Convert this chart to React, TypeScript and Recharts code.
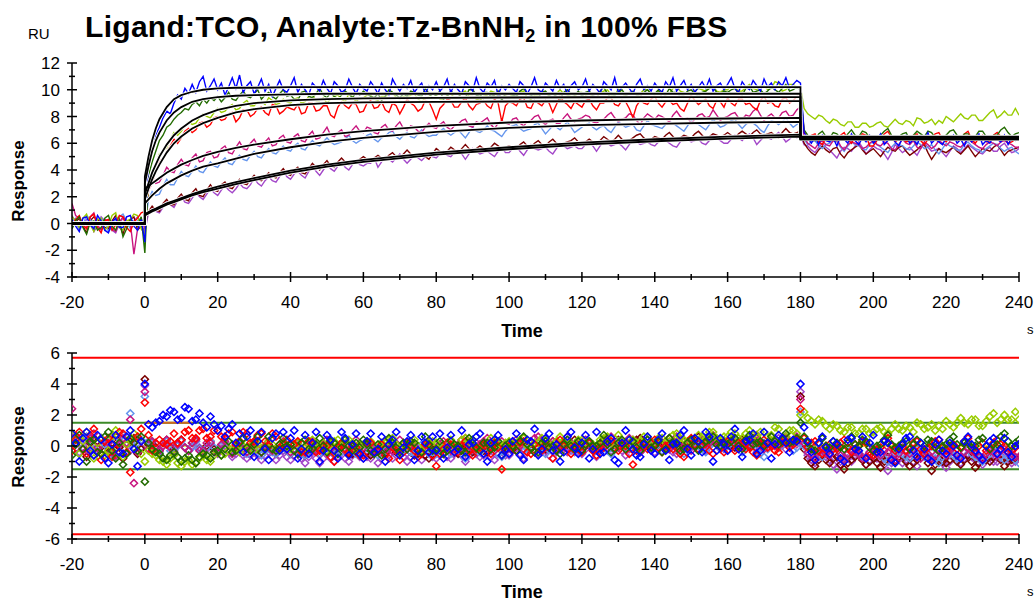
import React from 'react';
import { ComposedChart, Line, Scatter, XAxis, YAxis, ReferenceLine } from 'recharts';

// time grid (s), one row per 20 s
const T = [
  -20, -19, -18, -17, -16, -15, -14, -13, -12, -11, -10, -9, -8, -7, -6, -5, -4, -3, -2, -1,
  0, 1, 2, 3, 4, 5, 6, 7, 8, 9, 10, 11, 12, 13, 14, 15, 16, 17, 18, 19,
  20, 21, 22, 23, 24, 25, 26, 27, 28, 29, 30, 31, 32, 33, 34, 35, 36, 37, 38, 39,
  40, 41, 42, 43, 44, 45, 46, 47, 48, 49, 50, 51, 52, 53, 54, 55, 56, 57, 58, 59,
  60, 61, 62, 63, 64, 65, 66, 67, 68, 69, 70, 71, 72, 73, 74, 75, 76, 77, 78, 79,
  80, 81, 82, 83, 84, 85, 86, 87, 88, 89, 90, 91, 92, 93, 94, 95, 96, 97, 98, 99,
  100, 101, 102, 103, 104, 105, 106, 107, 108, 109, 110, 111, 112, 113, 114, 115, 116, 117, 118, 119,
  120, 121, 122, 123, 124, 125, 126, 127, 128, 129, 130, 131, 132, 133, 134, 135, 136, 137, 138, 139,
  140, 141, 142, 143, 144, 145, 146, 147, 148, 149, 150, 151, 152, 153, 154, 155, 156, 157, 158, 159,
  160, 161, 162, 163, 164, 165, 166, 167, 168, 169, 170, 171, 172, 173, 174, 175, 176, 177, 178, 179,
  180, 181, 182, 183, 184, 185, 186, 187, 188, 189, 190, 191, 192, 193, 194, 195, 196, 197, 198, 199,
  200, 201, 202, 203, 204, 205, 206, 207, 208, 209, 210, 211, 212, 213, 214, 215, 216, 217, 218, 219,
  220, 221, 222, 223, 224, 225, 226, 227, 228, 229, 230, 231, 232, 233, 234, 235, 236, 237, 238, 239,
  240,
];

// sensorgram responses (RU)
const respBlue = [
  0.3, -0.2, -0.6, 0.4, 0.5, -0.1, -0.4, 0.6, 0.2, -0.5, -0.7, 0.1, 0.4, -0.3, -0.3, 0.5, 0.6, -0.2, -0.5, 0.3,
  -1.4, 4.5, 5.4, 6.6, 7.2, 7.9, 8.4, 8.2, 9.0, 9.6, 9.3, 10.1, 9.7, 10.4, 9.8, 10.6, 11.0, 9.9, 10.3, 10.8,
  10.0, 10.5, 9.6, 10.2, 10.9, 10.1, 11.1, 9.8, 10.3, 10.6, 9.7, 10.2, 10.8, 9.9, 10.4, 9.5, 10.1, 10.7, 10.0, 9.8,
  10.3, 10.9, 9.8, 10.4, 10.0, 9.6, 10.5, 10.2, 9.9, 10.7, 10.1, 9.7, 10.6, 10.3, 9.8, 10.0, 10.8, 10.2, 9.7, 10.4,
  10.1, 9.9, 10.6, 10.2, 9.7, 10.5, 10.0, 9.6, 10.8, 10.3, 9.9, 10.4, 10.1, 10.7, 9.8, 10.2, 10.5, 9.7, 10.3, 10.0,
  10.6, 9.9, 10.2, 10.8, 9.8, 10.4, 10.0, 9.7, 10.6, 10.3, 9.9, 10.9, 10.1, 9.8, 10.5, 10.2, 10.7, 9.6, 10.3, 10.0,
  10.4, 10.1, 9.8, 10.6, 10.3, 9.7, 10.2, 10.9, 10.0, 9.8, 10.5, 10.2, 9.9, 10.7, 10.1, 10.4, 9.7, 10.3, 10.6, 10.0,
  10.2, 10.8, 9.9, 10.4, 10.1, 9.7, 10.6, 10.3, 10.0, 10.9, 9.8, 10.2, 10.5, 10.1, 9.7, 10.4, 10.8, 10.0, 10.3, 9.9,
  10.5, 10.1, 9.8, 10.6, 10.2, 10.9, 9.9, 10.3, 10.7, 10.0, 10.4, 9.8, 10.2, 10.6, 10.1, 10.8, 9.9, 10.3, 10.5, 10.0,
  10.4, 10.9, 10.1, 9.8, 10.6, 10.2, 10.0, 10.7, 10.3, 9.9, 10.8, 10.2, 10.5, 10.0, 10.6, 10.3, 10.9, 10.1, 10.4, 10.7,
  10.5, 6.8, 6.4, 6.0, 6.5, 5.9, 6.6, 6.2, 6.1, 6.4, 5.8, 6.5, 6.3, 6.0, 6.7, 6.2, 5.9, 6.4, 6.1, 6.6,
  6.0, 6.3, 6.7, 5.9, 6.2, 6.5, 6.1, 5.8, 6.4, 6.6, 6.0, 6.3, 5.9, 6.5, 6.2, 6.8, 6.0, 6.3, 6.1, 5.9,
  6.4, 6.2, 6.6, 6.0, 6.3, 5.8, 6.5, 6.1, 6.4, 6.7, 5.9, 6.2, 6.0, 6.5, 6.3, 6.1, 6.6, 5.9, 6.4, 6.2,
  6.3,
];
const respGreen = [
  -0.4, 0.2, 0.5, -0.3, -0.8, 0.1, 0.2, -0.5, -0.3, 0.4, 0.6, -0.2, -0.5, 0.3, -1.0, -0.4, 0.3, 0.1, -0.2, 0.5,
  -2.2, 3.6, 4.6, 5.4, 6.2, 6.6, 7.2, 7.4, 7.8, 8.1, 8.3, 8.6, 8.5, 8.9, 9.1, 8.8, 9.3, 9.0, 9.4, 9.2,
  9.5, 9.1, 9.4, 9.8, 9.3, 9.2, 9.6, 9.9, 9.5, 9.4, 9.7, 10.0, 9.3, 9.6, 9.8, 9.5, 9.3, 9.7, 10.0, 9.5,
  9.6, 9.3, 9.2, 9.8, 9.9, 9.5, 9.4, 9.7, 10.1, 9.6, 9.4, 9.8, 9.5, 9.3, 9.6, 9.9, 9.7, 9.4, 9.8, 9.6,
  9.9, 9.7, 9.5, 9.4, 9.7, 9.2, 9.5, 10.0, 9.8, 9.6, 9.4, 9.7, 9.5, 9.9, 9.8, 9.6, 9.5, 10.1, 9.7, 9.4,
  9.6, 9.9, 9.3, 9.5, 9.9, 9.7, 9.7, 9.4, 9.4, 10.0, 10.0, 9.6, 9.5, 9.8, 9.8, 9.5, 9.6, 9.9, 9.2, 9.7,
  9.8, 9.6, 9.5, 9.9, 10.1, 9.7, 9.6, 9.4, 9.4, 9.8, 9.9, 9.6, 9.7, 9.5, 9.3, 9.8, 10.0, 9.7, 9.6, 9.9,
  9.5, 9.8, 9.9, 9.6, 9.7, 9.9, 10.2, 9.7, 9.4, 9.6, 9.8, 10.0, 9.6, 9.7, 9.9, 9.6, 9.5, 9.8, 10.0, 9.7,
  9.7, 10.0, 9.4, 9.6, 10.1, 9.8, 9.8, 9.5, 9.6, 9.9, 10.0, 9.7, 9.5, 9.8, 9.9, 10.1, 10.2, 9.8, 9.7, 9.9,
  9.8, 10.0, 10.1, 9.7, 9.6, 10.1, 10.3, 9.8, 9.9, 10.0, 9.7, 9.9, 10.2, 10.0, 9.8, 10.1, 10.4, 9.9, 10.0, 10.2,
  10.0, 7.0, 6.6, 6.3, 6.2, 6.7, 6.9, 6.5, 6.4, 6.8, 6.7, 6.4, 6.3, 6.7, 7.0, 6.6, 6.5, 6.9, 6.8, 6.4,
  6.2, 6.5, 6.6, 6.9, 7.1, 6.6, 6.4, 6.5, 6.7, 6.8, 6.3, 6.6, 6.9, 6.7, 6.5, 6.9, 6.8, 6.4, 6.2, 6.5,
  6.6, 6.9, 7.0, 6.6, 6.4, 6.7, 6.7, 6.4, 6.5, 6.9, 6.9, 6.5, 6.3, 6.6, 6.6, 7.0, 7.2, 6.8, 6.5, 6.7,
  6.8,
];
const respLime = [
  0.5, 0.2, -0.3, 0.4, 0.7, -0.1, -0.6, 0.3, 0.4, -0.5, -0.2, 0.6, 0.8, -0.3, -0.5, 0.2, 0.3, 0.7, 0.6, -0.4,
  -0.8, 2.6, 3.6, 4.4, 5.2, 5.4, 5.7, 6.3, 6.8, 6.6, 6.9, 7.3, 7.6, 7.4, 7.5, 7.9, 8.2, 8.0, 7.9, 8.3,
  8.6, 8.3, 8.4, 8.7, 8.9, 8.5, 8.6, 9.0, 9.2, 8.8, 8.8, 9.1, 9.1, 8.9, 9.4, 9.2, 8.9, 9.0, 9.3, 9.1,
  9.0, 9.3, 9.4, 9.0, 9.1, 9.5, 9.6, 9.2, 9.2, 9.4, 9.0, 9.3, 9.5, 9.6, 9.3, 9.1, 9.7, 9.5, 9.1, 9.4,
  9.4, 9.6, 9.6, 9.3, 9.2, 9.5, 9.5, 9.7, 9.8, 9.4, 9.3, 9.5, 9.4, 9.6, 9.7, 9.3, 9.1, 9.4, 9.5, 9.7,
  9.6, 9.3, 9.3, 9.6, 9.7, 9.4, 9.4, 9.8, 9.9, 9.5, 9.5, 9.3, 9.2, 9.5, 9.6, 9.9, 9.8, 9.5, 9.4, 9.6,
  9.7, 9.5, 9.5, 9.8, 9.9, 9.4, 9.3, 9.6, 9.6, 9.9, 9.8, 9.5, 9.4, 9.7, 10.0, 9.7, 9.6, 9.5, 9.5, 9.8,
  9.8, 9.6, 9.7, 9.5, 9.4, 9.8, 9.9, 10.0, 9.6, 9.5, 10.1, 9.7, 9.5, 9.8, 9.8, 9.6, 9.7, 10.0, 10.0, 9.7,
  9.6, 9.9, 9.9, 9.6, 9.7, 10.1, 10.2, 9.9, 9.8, 9.7, 9.6, 9.9, 10.1, 10.0, 9.9, 10.3, 10.3, 9.9, 9.8, 10.0,
  10.0, 10.3, 10.2, 9.9, 9.9, 10.2, 10.4, 10.1, 10.0, 10.3, 10.3, 10.0, 10.1, 10.6, 10.5, 9.9, 10.0, 10.4, 10.4, 10.2,
  10.2, 8.6, 8.2, 8.0, 7.8, 8.1, 8.0, 7.7, 7.5, 7.8, 7.7, 7.4, 7.3, 7.6, 7.6, 7.2, 7.2, 7.5, 7.5, 7.2,
  7.3, 7.5, 7.6, 7.3, 7.2, 7.5, 7.8, 7.5, 7.4, 7.7, 7.6, 7.3, 7.9, 7.8, 7.5, 7.6, 7.8, 7.4, 7.7, 7.5,
  8.0, 7.8, 7.6, 7.9, 8.2, 7.9, 7.8, 8.1, 8.1, 7.7, 7.7, 8.0, 8.3, 8.5, 7.9, 8.1, 8.4, 8.1, 8.1, 8.6,
  8.1,
];
const respRed = [
  -0.2, 0.3, 0.6, -0.1, -0.4, 0.5, 0.7, -0.3, -0.7, 0.2, 0.3, -0.5, -0.1, 0.6, 0.5, -0.3, -0.6, 0.1, 0.4, 0.8,
  0.9, 2.5, 3.0, 4.0, 4.6, 4.9, 5.4, 5.8, 6.3, 6.0, 6.4, 6.9, 7.1, 6.8, 7.0, 7.5, 7.6, 7.2, 7.4, 7.9,
  8.0, 7.7, 7.8, 8.2, 8.3, 7.6, 7.9, 8.5, 8.5, 8.0, 8.2, 8.6, 8.7, 8.3, 8.1, 8.9, 8.8, 8.2, 8.4, 8.7,
  8.6, 8.5, 8.9, 8.2, 8.3, 9.0, 9.0, 8.4, 8.5, 8.8, 8.8, 8.1, 7.9, 8.7, 9.1, 8.8, 8.6, 9.0, 8.9, 8.3,
  8.4, 9.0, 9.2, 8.6, 8.7, 9.1, 8.5, 8.3, 9.0, 8.8, 8.2, 8.7, 9.3, 9.0, 8.8, 8.4, 8.6, 9.2, 9.1, 8.5,
  7.8, 8.6, 8.9, 9.3, 9.2, 8.7, 8.7, 9.1, 9.4, 8.8, 8.5, 8.9, 9.0, 9.2, 8.8, 8.6, 9.3, 9.0, 7.6, 8.8,
  9.1, 9.0, 8.8, 9.3, 9.4, 8.7, 8.6, 9.2, 9.0, 8.8, 9.2, 9.0, 8.3, 8.9, 9.5, 9.1, 8.9, 8.6, 9.1, 8.9,
  8.7, 9.2, 9.3, 8.8, 8.5, 9.0, 9.0, 9.4, 9.4, 8.9, 8.8, 9.2, 9.1, 8.6, 7.9, 8.8, 9.2, 9.0, 8.9, 9.3,
  9.5, 9.0, 8.7, 9.1, 9.2, 8.9, 9.0, 8.6, 8.4, 9.0, 9.6, 9.2, 8.9, 9.1, 9.3, 8.8, 8.6, 9.2, 9.1, 8.7,
  9.4, 9.0, 8.8, 9.3, 9.3, 8.9, 9.0, 8.7, 8.5, 9.2, 9.5, 9.0, 9.1, 8.8, 8.7, 9.3, 9.4, 9.0, 9.2, 9.5,
  9.6, 6.9, 6.3, 6.6, 6.7, 6.1, 5.9, 6.4, 6.5, 6.2, 6.2, 6.6, 6.8, 6.3, 6.0, 6.5, 6.4, 6.7, 6.6, 5.8,
  5.8, 6.2, 6.3, 6.7, 6.9, 6.4, 6.1, 6.3, 6.5, 6.1, 6.2, 6.6, 6.7, 6.2, 5.9, 6.3, 6.4, 6.7, 6.8, 6.3,
  6.1, 6.4, 6.5, 6.2, 6.3, 6.7, 6.9, 6.3, 6.0, 6.4, 6.6, 6.1, 6.2, 6.6, 6.8, 6.5, 6.4, 6.0, 6.1, 6.3,
  6.5,
];
const respMagenta = [
  1.5, 0.6, 0.4, -0.2, -0.3, 0.5, 0.8, -0.1, -0.5, 0.3, 0.2, -0.4, -0.6, 0.1, 0.5, 0.2, 0.1, -2.3, -0.4, 0.3,
  -0.4, 2.4, 3.3, 3.0, 3.1, 3.6, 4.2, 3.9, 3.8, 4.4, 4.8, 4.4, 4.3, 4.9, 5.2, 4.6, 4.7, 5.3, 5.4, 4.9,
  5.0, 5.6, 5.8, 5.3, 5.2, 5.7, 6.1, 5.6, 5.5, 6.0, 6.3, 5.8, 5.7, 6.1, 6.4, 5.8, 5.9, 6.4, 6.6, 6.1,
  6.0, 6.5, 6.7, 6.2, 6.1, 6.6, 6.9, 6.3, 6.4, 6.8, 7.2, 6.6, 6.5, 6.8, 7.0, 6.5, 6.6, 7.0, 7.3, 6.9,
  6.8, 7.2, 7.1, 6.8, 6.7, 7.2, 7.4, 7.0, 6.9, 7.3, 7.6, 7.1, 7.0, 7.3, 7.2, 6.9, 6.8, 7.2, 7.5, 7.2,
  7.1, 7.4, 7.6, 7.2, 7.0, 7.3, 7.4, 7.7, 7.8, 7.3, 7.2, 7.6, 7.5, 7.7, 7.9, 7.4, 7.1, 7.5, 7.7, 7.5,
  7.4, 7.8, 7.9, 7.5, 7.3, 7.6, 7.7, 8.0, 8.1, 7.6, 7.4, 7.7, 7.8, 7.5, 7.5, 7.9, 8.2, 7.8, 7.6, 7.8,
  7.9, 8.1, 8.0, 7.6, 7.5, 7.7, 7.8, 8.1, 8.3, 7.9, 7.6, 7.8, 7.9, 8.2, 8.1, 7.7, 7.4, 7.9, 8.2, 8.0,
  7.8, 8.1, 8.0, 7.8, 7.6, 8.1, 8.4, 8.0, 7.8, 7.9, 7.5, 7.8, 8.1, 8.2, 7.9, 8.0, 8.5, 8.1, 7.7, 7.9,
  8.0, 8.2, 8.3, 7.9, 7.8, 8.1, 8.0, 8.4, 8.6, 8.1, 7.7, 8.0, 8.2, 7.9, 7.9, 8.3, 8.4, 8.0, 8.1, 8.5,
  8.7, 6.5, 6.0, 5.8, 5.6, 6.0, 6.2, 5.9, 5.8, 6.2, 6.3, 5.8, 5.5, 5.9, 6.1, 6.0, 5.9, 5.6, 5.7, 6.0,
  6.2, 5.9, 5.8, 6.1, 6.0, 5.6, 5.5, 5.9, 6.3, 6.0, 5.9, 6.2, 5.7, 5.6, 6.1, 5.9, 5.6, 5.8, 6.2, 6.0,
  5.8, 6.1, 6.0, 5.8, 5.7, 6.0, 6.3, 6.1, 5.9, 5.7, 5.6, 5.9, 6.1, 6.0, 5.8, 6.1, 6.2, 6.0, 5.9, 5.7,
  5.7,
];
const respSky = [
  0.2, 0.4, -0.5, -0.1, 0.6, 0.3, -0.2, -0.4, 0.4, 0.1, -0.6, -0.3, 0.3, 0.5, 0.7, 0.2, -0.4, -0.1, 0.2, 0.4,
  -0.3, 1.8, 2.4, 2.1, 2.2, 2.8, 3.3, 2.9, 2.9, 3.4, 3.9, 3.6, 3.5, 3.9, 4.3, 3.9, 3.8, 4.2, 4.6, 4.3,
  4.2, 4.6, 4.9, 4.5, 4.4, 4.8, 5.1, 4.8, 4.7, 5.1, 5.4, 5.0, 4.9, 5.3, 5.6, 5.3, 5.2, 5.5, 5.8, 5.5,
  5.4, 5.8, 6.0, 5.6, 5.5, 5.9, 6.2, 5.9, 5.8, 6.1, 6.4, 6.1, 5.9, 6.0, 6.1, 6.3, 6.6, 6.2, 6.0, 6.2,
  6.3, 6.6, 6.7, 6.3, 6.1, 6.4, 6.5, 6.8, 6.9, 6.5, 6.3, 6.6, 6.8, 6.5, 6.4, 6.7, 7.0, 6.7, 6.5, 6.6,
  6.6, 6.9, 7.1, 6.8, 6.6, 6.8, 7.0, 6.7, 6.4, 6.8, 7.2, 6.9, 6.8, 7.0, 7.3, 7.0, 6.9, 6.7, 6.5, 6.9,
  7.2, 7.3, 7.4, 7.1, 6.9, 7.0, 7.1, 7.4, 7.5, 7.1, 6.7, 7.0, 7.3, 7.2, 7.0, 7.3, 7.6, 7.2, 6.8, 7.0,
  7.2, 7.4, 7.5, 7.2, 7.0, 7.2, 7.3, 7.0, 6.8, 7.2, 7.6, 7.4, 7.2, 7.3, 7.4, 7.0, 6.9, 7.3, 7.7, 7.4,
  7.3, 7.2, 7.1, 7.4, 7.6, 7.5, 7.3, 7.1, 6.9, 7.3, 7.7, 7.5, 7.4, 7.2, 7.0, 7.4, 7.8, 7.5, 7.2, 7.3,
  7.5, 7.7, 7.8, 7.4, 7.1, 7.4, 7.6, 7.5, 7.3, 7.0, 6.8, 7.3, 7.7, 7.6, 7.4, 7.6, 7.9, 7.5, 7.2, 7.4,
  7.6, 6.3, 5.9, 6.1, 6.2, 5.8, 5.6, 5.9, 6.0, 6.2, 6.1, 5.7, 5.4, 5.8, 6.1, 5.9, 5.8, 5.6, 5.5, 5.9,
  6.2, 5.9, 5.7, 5.5, 5.3, 5.7, 6.0, 5.9, 5.8, 5.6, 5.5, 5.8, 6.1, 5.9, 5.6, 5.7, 5.9, 5.5, 5.2, 5.6,
  6.0, 5.8, 5.7, 5.5, 5.5, 5.9, 6.1, 5.8, 5.6, 5.5, 5.3, 5.6, 5.8, 6.0, 5.9, 5.6, 5.4, 5.6, 5.7, 5.4,
  5.2,
];
const respMaroon = [
  -0.3, 0.1, 0.4, -0.2, -0.7, 0.2, 0.5, 0.3, 0.1, -0.3, -0.4, 0.2, 0.6, -0.1, -0.8, 0.1, 0.3, 0.5, -0.5, -0.2,
  0.2, 0.9, 1.3, 1.0, 0.9, 1.5, 1.8, 1.4, 1.4, 1.9, 2.2, 1.8, 1.7, 2.3, 2.6, 2.1, 2.0, 2.5, 2.9, 2.5,
  2.4, 2.9, 3.1, 2.7, 2.6, 3.0, 3.3, 3.0, 2.9, 3.3, 3.6, 3.3, 3.2, 3.5, 3.8, 3.5, 3.4, 3.8, 4.1, 3.7,
  3.6, 4.0, 4.2, 3.8, 3.7, 4.1, 4.5, 4.2, 4.0, 4.4, 4.7, 4.3, 4.2, 4.6, 4.9, 4.6, 4.4, 4.5, 4.6, 4.8,
  5.0, 4.8, 4.6, 4.9, 5.1, 4.9, 4.8, 5.1, 5.3, 5.0, 4.9, 5.2, 5.5, 5.2, 5.0, 5.1, 5.2, 5.0, 4.8, 5.2,
  5.6, 5.4, 5.2, 5.4, 5.7, 5.5, 5.3, 5.6, 5.9, 5.6, 5.4, 5.6, 5.8, 5.6, 5.5, 5.7, 6.0, 5.8, 5.6, 5.7,
  5.8, 5.7, 5.6, 5.9, 6.1, 5.8, 5.7, 6.0, 6.2, 5.9, 5.8, 6.1, 6.3, 6.0, 5.9, 6.0, 6.1, 6.2, 6.4, 6.1,
  5.9, 6.1, 6.3, 6.1, 5.9, 6.2, 6.5, 6.3, 6.1, 6.3, 6.6, 6.3, 6.0, 6.2, 6.4, 6.6, 6.7, 6.4, 6.2, 6.3,
  6.5, 6.4, 6.3, 6.6, 6.8, 6.5, 6.2, 6.4, 6.6, 6.5, 6.4, 6.7, 6.9, 6.6, 6.3, 6.5, 6.7, 6.6, 6.5, 6.6,
  6.8, 6.6, 6.4, 6.7, 6.9, 6.7, 6.5, 6.8, 7.0, 6.7, 6.6, 6.7, 6.8, 6.6, 6.4, 6.8, 7.1, 6.8, 6.7, 6.8,
  6.9, 6.0, 5.6, 5.3, 5.1, 5.5, 5.8, 5.5, 5.3, 5.6, 5.7, 5.2, 4.9, 5.3, 5.5, 5.7, 5.9, 5.5, 5.2, 5.4,
  5.6, 5.3, 5.0, 5.4, 5.7, 5.5, 5.4, 5.7, 5.8, 5.4, 5.1, 5.3, 5.5, 5.8, 5.9, 5.3, 4.8, 5.2, 5.6, 5.4,
  5.3, 5.5, 5.7, 5.4, 5.2, 5.5, 5.8, 5.4, 5.0, 5.3, 5.6, 5.5, 5.4, 5.7, 5.9, 5.5, 5.1, 5.4, 5.5, 5.6,
  5.7,
];
const respPurple = [
  0.6, 0.1, -0.4, -0.1, 0.3, 0.5, -0.6, -0.2, 0.5, 0.2, -0.2, -0.5, -0.7, 0.0, 0.4, 0.1, -0.3, 0.2, 0.5, -0.1,
  -0.6, 0.8, 1.1, 0.9, 0.8, 1.2, 1.6, 1.4, 1.2, 1.7, 2.0, 1.6, 1.5, 1.9, 2.3, 2.0, 1.8, 2.2, 2.6, 2.3,
  2.1, 2.5, 2.8, 2.5, 2.3, 2.6, 3.0, 2.7, 2.6, 2.9, 3.4, 3.0, 2.8, 3.2, 3.5, 3.2, 3.1, 3.5, 3.9, 3.5,
  3.3, 3.7, 3.9, 3.6, 3.4, 3.9, 4.3, 3.9, 3.6, 4.0, 4.4, 4.1, 3.9, 4.3, 4.6, 4.2, 4.0, 4.4, 4.7, 4.4,
  4.3, 4.5, 4.5, 4.9, 4.2, 4.6, 5.0, 4.8, 4.6, 4.9, 5.2, 4.8, 4.5, 4.8, 5.1, 4.9, 4.7, 5.0, 5.3, 5.0,
  4.9, 5.2, 5.4, 5.1, 5.0, 5.3, 5.5, 5.2, 4.8, 5.2, 5.6, 5.4, 5.2, 5.3, 5.4, 5.2, 5.0, 5.4, 5.7, 5.3,
  5.3, 5.6, 5.8, 5.4, 5.1, 5.5, 5.9, 5.6, 5.5, 5.6, 5.7, 5.4, 5.2, 5.6, 6.0, 5.8, 5.6, 5.7, 5.8, 5.6,
  5.6, 5.9, 6.1, 5.8, 5.4, 5.8, 6.2, 6.0, 5.8, 5.9, 6.0, 5.8, 5.5, 5.9, 6.3, 6.1, 5.9, 6.0, 6.1, 5.9,
  5.8, 6.1, 6.4, 6.2, 6.0, 5.8, 5.7, 6.1, 6.5, 6.3, 6.1, 6.2, 6.3, 6.0, 5.9, 6.2, 6.6, 6.4, 6.2, 6.0,
  6.0, 6.3, 6.6, 6.4, 6.2, 6.5, 6.7, 6.4, 5.9, 6.2, 6.5, 6.4, 6.3, 6.6, 6.8, 6.5, 6.1, 6.3, 6.6, 6.4,
  6.6, 5.9, 5.8, 5.5, 5.3, 5.7, 6.0, 5.7, 5.5, 5.2, 4.9, 5.4, 5.7, 5.6, 5.4, 5.8, 6.1, 5.7, 5.2, 5.5,
  5.8, 5.6, 5.5, 5.2, 4.8, 5.3, 5.9, 5.6, 5.3, 5.5, 5.7, 5.4, 5.1, 5.6, 6.0, 5.7, 5.4, 5.5, 5.6, 5.3,
  5.0, 5.4, 5.8, 5.6, 5.3, 5.6, 5.9, 5.7, 5.5, 5.3, 5.2, 5.5, 5.7, 5.4, 5.4, 5.8, 6.0, 5.6, 5.3, 5.4,
  5.6,
];

// fitted curves
const FT = [-20, 0, 0, 1, 2, 3, 4, 6, 8, 10, 13, 16, 20, 25, 30, 40, 50, 60, 80, 100, 120, 140, 160, 180, 180, 240];
const fitBlue = [0, 0, 3.5, 5.0, 6.2, 7.1, 7.8, 8.7, 9.3, 9.6, 9.85, 10.0, 10.1, 10.15, 10.15, 10.2, 10.2, 10.2, 10.2, 10.2, 10.2, 10.2, 10.2, 10.2, 6.3, 6.3];
const fitGreen = [0, 0, 3.0, 4.3, 5.4, 6.2, 6.8, 7.7, 8.3, 8.7, 9.1, 9.3, 9.45, 9.55, 9.6, 9.65, 9.7, 9.7, 9.7, 9.7, 9.7, 9.7, 9.7, 9.7, 6.5, 6.5];
const fitLime = [0, 0, 2.2, 3.0, 3.8, 4.4, 5.0, 5.9, 6.6, 7.1, 7.7, 8.1, 8.5, 8.8, 9.0, 9.2, 9.3, 9.35, 9.4, 9.42, 9.44, 9.45, 9.45, 9.45, 6.45, 6.45];
const fitRed = [0, 0, 1.8, 2.6, 3.3, 3.9, 4.4, 5.3, 6.0, 6.5, 7.1, 7.5, 7.9, 8.3, 8.55, 8.85, 9.0, 9.05, 9.1, 9.12, 9.14, 9.15, 9.15, 9.15, 6.4, 6.4];
const fitMagenta = [0, 0, 2.6, 2.8, 3.0, 3.2, 3.4, 3.8, 4.1, 4.4, 4.75, 5.05, 5.35, 5.65, 5.9, 6.3, 6.65, 6.9, 7.3, 7.55, 7.7, 7.8, 7.85, 7.9, 6.35, 6.35];
const fitSky = [0, 0, 1.5, 1.8, 2.1, 2.35, 2.6, 3.0, 3.3, 3.6, 3.95, 4.25, 4.5, 4.85, 5.2, 5.7, 6.1, 6.4, 6.85, 7.15, 7.35, 7.45, 7.55, 7.6, 6.3, 6.3];
const fitMaroon = [0, 0, 0.7, 0.85, 1.0, 1.12, 1.25, 1.5, 1.7, 1.9, 2.2, 2.45, 2.75, 3.1, 3.4, 3.95, 4.4, 4.75, 5.3, 5.7, 6.05, 6.3, 6.5, 6.65, 6.4, 6.4];
const fitPurple = [0, 0, 0.6, 0.75, 0.9, 1.02, 1.15, 1.4, 1.6, 1.8, 2.1, 2.35, 2.6, 2.95, 3.25, 3.8, 4.25, 4.6, 5.15, 5.55, 5.9, 6.15, 6.35, 6.5, 6.35, 6.35];

// residuals
const resBlue = [
  0.8, 0.2, -1.0, 0.5, 0.9, -0.3, -0.6, 0.7, 0.4, -0.8, -1.1, 0.1, 0.7, -0.4, -0.5, 0.6, 1.0, -0.2, -1.3, 0.3,
  4.0, 1.4, 1.2, 1.5, 1.6, 2.0, 1.9, 2.3, 2.2, 1.7, 1.8, 2.5, 2.4, 1.6, 1.7, 2.1, 1.5, 1.2, 1.9, 1.4,
  1.0, 1.3, 0.6, 1.1, 1.4, 0.2, 0.8, -0.4, 0.6, 1.0, -0.7, 0.3, 0.9, -0.2, -0.9, 0.5, 0.8, -0.3, 0.9, -0.2,
  0.5, 1.0, -0.8, -0.2, 0.7, -0.5, 0.2, 0.9, -1.0, -0.3, 0.7, 0.4, -0.3, -0.8, 0.9, 0.5, -0.6, 0.1, 0.8, -0.5,
  -0.8, 0.3, 0.8, -0.4, -0.2, 0.6, -1.0, 0.1, 0.4, 0.9, -0.6, -0.1, 0.3, 0.7, -0.9, -0.3, 0.6, 0.2, -0.4, 0.6,
  -0.3, 0.8, -0.8, -0.1, 0.7, -0.4, -0.2, 1.0, -0.7, 0.1, 0.2, 0.6, 0.8, -0.5, -1.0, 0.2, 0.4, 0.7, -0.6, -0.2,
  -0.5, 0.3, 0.8, -0.6, -0.9, 0.4, 0.3, 1.1, -0.6, -0.2, 0.5, 0.8, -0.3, 0.1, -1.0, -0.4, 0.6, 0.9, -0.1, -0.5,
  0.2, 0.7, -0.8, -0.2, 0.9, -0.5, -0.4, 0.3, 0.5, -0.9, -1.1, 0.2, 1.0, 0.4, -0.2, -0.6, -0.7, 0.1, 0.6, -0.3,
  -0.5, 0.4, 0.8, -0.3, -0.9, 0.1, 0.2, 0.7, 1.0, -0.2, -0.6, 0.5, 0.3, -0.4, 0.9, 0.6, -1.0, -0.3, 0.5, 0.1,
  -0.3, 0.6, 1.1, -0.2, -0.7, 0.3, 0.4, 0.8, -0.5, -0.3, 0.9, 0.2, -0.8, 0.1, 0.7, 0.5, 0.2, -0.4, 0.4, 0.3,
  4.0, 1.2, 0.3, -0.4, -0.9, 0.2, 0.6, -0.1, -0.5, 0.3, 0.1, -0.8, -1.0, 0.4, 0.5, -0.2, -0.3, 0.6, -0.8, 0.2,
  0.7, -0.4, -0.4, 0.3, 0.2, -0.9, -1.1, -0.2, 0.1, 0.5, 0.6, -0.3, -0.7, 0.2, -0.2, -0.8, -1.0, 0.1, 0.4, -0.3,
  -0.5, 0.2, 0.0, -0.6, -0.8, 0.3, 0.6, 0.1, -0.3, -0.6, -0.9, 0.0, 0.3, 0.5, -0.5, -0.2, 0.5, -0.4, -0.7, 0.0,
  0.1,
];
const resGreen = [
  -0.6, 0.1, 0.7, -0.2, -1.0, 0.3, 0.4, -0.4, -0.5, 0.6, 0.9, -0.3, -0.8, 0.2, -1.2, -0.5, 0.5, 0.2, -0.3, 0.6,
  -2.3, 0.2, -0.2, -0.4, -0.5, -0.8, -0.9, -0.6, -0.4, -0.7, -1.0, -0.8, -0.6, -0.9, -1.1, -0.7, -0.5, -0.6, -0.8, -0.4,
  -0.3, -0.6, -0.2, 0.3, -0.4, -0.3, 0.2, 0.5, -0.1, -0.3, 0.1, 0.6, -0.4, -0.1, 0.6, -0.2, -0.3, 0.1, 0.5, 0.0,
  0.1, -0.3, -0.5, 0.2, 0.4, -0.2, -0.2, 0.1, 0.5, 0.0, -0.4, 0.3, 0.2, -0.5, -0.1, 0.4, 0.0, -0.3, 0.2, -0.1,
  0.4, 0.1, -0.3, -0.5, 0.1, -0.6, -0.2, 0.5, 0.2, -0.1, -0.4, 0.2, -0.2, 0.3, 0.2, -0.3, -0.4, 0.6, 0.1, -0.3,
  -0.2, 0.3, -0.5, -0.3, 0.3, 0.1, 0.0, -0.3, -0.4, 0.5, 0.4, -0.1, -0.3, 0.2, 0.2, -0.2, -0.1, 0.3, -0.6, 0.0,
  0.2, 0.0, -0.3, 0.3, 0.6, 0.1, -0.1, -0.4, -0.4, 0.2, 0.3, -0.1, 0.0, -0.3, -0.5, 0.1, 0.4, 0.0, -0.2, 0.3,
  -0.3, 0.1, 0.3, 0.0, 0.0, 0.2, 0.7, 0.1, -0.4, -0.2, 0.2, 0.4, -0.2, 0.0, 0.3, -0.1, -0.3, 0.2, 0.4, -0.1,
  0.0, 0.3, -0.4, -0.2, 0.5, 0.2, 0.1, -0.3, -0.2, 0.2, 0.4, 0.0, -0.3, 0.1, 0.3, 0.4, 0.6, 0.1, 0.0, 0.2,
  0.1, 0.3, 0.5, 0.0, -0.2, 0.4, 0.7, 0.1, 0.2, 0.3, 0.0, 0.2, 0.6, 0.3, 0.1, 0.4, 0.8, 0.2, 0.3, 0.5,
  1.5, 0.6, 0.2, -0.2, -0.3, 0.2, 0.5, 0.0, -0.1, 0.3, 0.2, -0.1, -0.2, 0.2, 0.6, 0.1, 0.0, 0.4, 0.3, -0.1,
  -0.3, 0.0, 0.1, 0.4, 0.7, 0.1, -0.1, 0.0, 0.2, 0.3, -0.2, 0.1, 0.4, 0.2, 0.0, 0.4, 0.3, -0.1, -0.3, 0.0,
  0.1, 0.4, 0.6, 0.1, -0.1, 0.2, 0.2, -0.1, 0.0, 0.4, 0.5, 0.0, -0.2, 0.1, 0.1, 0.6, 0.8, 0.3, 0.0, 0.2,
  0.4,
];
const resLime = [
  0.7, 0.4, -0.5, 0.3, 0.9, -0.2, -0.8, 0.2, 0.5, -0.6, -0.3, 0.6, 1.0, -0.4, -0.7, 0.1, 0.4, 0.8, 0.6, -0.5,
  -1.0, -0.3, -0.5, -0.6, -0.9, -1.0, -1.2, -0.8, -0.6, -1.1, -1.3, -1.0, -0.9, -1.2, -1.1, -0.8, -0.6, -0.9, -1.0, -0.6,
  -0.3, -0.6, -0.5, -0.3, 0.1, -0.2, -0.4, 0.0, 0.2, -0.3, -0.3, 0.1, 0.1, -0.2, 0.3, 0.1, -0.3, -0.1, 0.2, 0.0,
  -0.2, 0.1, 0.2, -0.2, -0.1, 0.3, 0.4, 0.0, 0.0, 0.2, -0.3, 0.1, 0.3, 0.4, 0.0, -0.2, 0.4, 0.2, -0.2, 0.1,
  0.1, 0.3, 0.3, 0.0, -0.2, 0.2, 0.2, 0.4, 0.5, 0.1, -0.1, 0.1, 0.0, 0.3, 0.4, 0.0, -0.3, 0.1, 0.2, 0.3,
  0.2, -0.1, -0.1, 0.2, 0.4, 0.0, 0.0, 0.4, 0.5, 0.1, 0.1, -0.1, -0.2, 0.1, 0.2, 0.5, 0.4, 0.1, 0.0, 0.2,
  0.3, 0.1, 0.1, 0.4, 0.5, 0.0, -0.1, 0.2, 0.2, 0.5, 0.4, 0.1, 0.0, 0.3, 0.6, 0.3, 0.2, 0.1, 0.1, 0.4,
  0.4, 0.2, 0.3, 0.1, 0.0, 0.4, 0.5, 0.6, 0.2, 0.1, 0.7, 0.3, 0.1, 0.4, 0.4, 0.2, 0.3, 0.6, 0.6, 0.3,
  0.2, 0.5, 0.5, 0.2, 0.3, 0.7, 0.8, 0.5, 0.4, 0.3, 0.2, 0.5, 0.7, 0.6, 0.5, 0.9, 0.9, 0.5, 0.4, 0.6,
  0.6, 0.9, 0.8, 0.5, 0.5, 0.8, 1.0, 0.7, 0.6, 0.9, 0.9, 0.6, 0.7, 1.2, 1.1, 0.5, 0.6, 1.0, 1.0, 0.8,
  2.0, 2.2, 1.8, 1.6, 1.4, 1.7, 1.6, 1.3, 1.1, 1.4, 1.3, 1.0, 0.9, 1.2, 1.2, 0.8, 0.8, 1.1, 1.1, 0.8,
  0.9, 1.1, 1.2, 0.9, 0.8, 1.1, 1.4, 1.1, 1.0, 1.3, 1.2, 0.9, 1.5, 1.4, 1.1, 1.2, 1.4, 1.0, 1.3, 1.1,
  1.6, 1.4, 1.2, 1.5, 1.8, 1.5, 1.4, 1.7, 1.7, 1.3, 1.3, 1.6, 1.9, 2.1, 1.5, 1.7, 2.0, 1.7, 1.7, 2.2,
  1.7,
];
const resRed = [
  -0.3, 0.4, 0.9, -0.2, -0.5, 0.7, 1.1, -0.4, -0.9, 0.3, 0.5, -0.7, -0.2, 0.9, 0.8, -0.4, -1.7, 0.2, 0.6, 1.1,
  2.8, 0.7, -0.3, 0.2, 0.4, 0.2, 0.1, 0.3, 0.8, 0.2, 0.4, 0.9, 1.0, 0.5, 0.5, 1.0, 1.1, 0.5, 0.6, 1.0,
  1.0, 0.6, 0.5, 0.8, 0.9, 0.1, 0.3, 0.9, 0.8, 0.2, 0.3, 0.7, 0.8, 0.3, 0.0, 0.8, 0.6, -0.1, 0.1, 0.4,
  0.1, 0.1, 0.3, -0.4, -0.4, 0.3, 0.2, -0.4, -0.3, 0.0, 0.0, -0.7, -1.0, -0.1, 0.2, -0.2, -0.4, 0.0, -0.1, -0.6,
  -0.6, 0.2, 0.2, -0.4, -0.3, 0.1, -0.6, -0.8, -0.1, -0.3, -0.9, -0.4, 0.2, -0.1, -0.3, -0.7, -0.5, 0.1, 0.0, -0.6,
  -1.3, -0.5, -0.2, 0.2, 0.1, -0.4, -0.4, 0.0, 0.3, -0.3, -0.6, -0.2, -0.1, 0.1, -0.3, -0.5, 0.2, -0.1, -1.5, -0.3,
  0.0, -0.1, -0.3, 0.2, 0.3, -0.4, -0.5, 0.1, -0.1, -0.3, 0.1, -0.1, -0.8, -0.2, 0.4, 0.0, -0.2, -0.5, 0.0, -0.2,
  -0.4, 0.1, 0.2, -0.3, -0.6, -0.1, -0.1, 0.3, 0.3, -0.2, -0.3, 0.1, 0.0, -0.5, -1.2, -0.3, 0.1, -0.1, -0.2, 0.2,
  0.4, -0.1, -0.4, 0.0, 0.1, -0.2, -0.1, -0.5, -0.7, -0.1, 0.5, 0.1, -0.2, 0.0, 0.2, -0.3, -0.5, 0.1, 0.0, -0.4,
  0.3, -0.1, -0.3, 0.2, 0.2, -0.2, -0.1, -0.4, -0.6, 0.1, 0.4, -0.1, 0.0, -0.3, -0.4, 0.2, 0.3, -0.1, 0.1, 0.4,
  2.4, 0.5, -0.1, 0.2, 0.3, -0.3, -0.5, 0.0, 0.1, -0.2, -0.2, 0.2, 0.4, -0.1, -0.4, 0.1, 0.0, 0.3, 0.2, -0.6,
  -0.6, -0.2, -0.1, 0.3, 0.5, 0.0, -0.3, -0.1, 0.1, -0.3, -0.2, 0.2, 0.3, -0.2, -0.5, -0.1, 0.0, 0.3, 0.4, -0.1,
  -0.3, 0.0, 0.1, -0.2, -0.1, 0.3, 0.5, -0.1, -0.4, 0.0, 0.2, -0.3, -0.2, 0.2, 0.4, 0.1, 0.0, -0.4, -0.3, -0.1,
  0.1,
];
const resMagenta = [
  2.4, 0.6, 0.4, -0.2, -0.3, 0.5, 0.8, -0.1, -0.5, 0.3, 0.2, -0.4, -0.6, 0.1, 0.5, 0.2, 1.7, -2.4, -0.4, 0.3,
  3.5, -0.2, 0.3, -0.2, -0.3, 0.0, 0.4, -0.1, -0.4, 0.1, 0.4, -0.1, -0.3, 0.2, 0.4, -0.3, -0.3, 0.2, 0.2, -0.4,
  -0.4, 0.1, 0.3, -0.3, -0.5, 0.0, 0.3, -0.2, -0.4, 0.0, 0.3, -0.2, -0.4, 0.0, 0.3, -0.3, -0.3, 0.1, 0.3, -0.2,
  -0.4, 0.1, 0.2, -0.3, -0.4, 0.1, 0.3, -0.3, -0.3, 0.1, 0.4, -0.2, -0.3, 0.0, 0.2, -0.3, -0.3, 0.1, 0.4, 0.0,
  -0.1, 0.3, 0.1, -0.3, -0.4, 0.1, 0.3, -0.2, -0.3, 0.1, 0.4, -0.1, -0.2, 0.1, 0.0, -0.3, -0.4, 0.0, 0.3, 0.0,
  -0.2, 0.1, 0.3, -0.1, -0.3, 0.0, 0.1, 0.4, 0.5, 0.0, -0.2, 0.2, 0.1, 0.3, 0.5, 0.0, -0.3, 0.1, 0.3, 0.1,
  -0.1, 0.3, 0.4, 0.0, -0.2, 0.1, 0.2, 0.5, 0.6, 0.1, -0.1, 0.2, 0.3, 0.0, -0.1, 0.3, 0.6, 0.2, 0.0, 0.2,
  0.2, 0.4, 0.3, -0.1, -0.2, 0.0, 0.1, 0.4, 0.6, 0.2, -0.1, 0.1, 0.2, 0.5, 0.4, 0.0, -0.4, 0.1, 0.4, 0.2,
  0.0, 0.3, 0.2, 0.0, -0.2, 0.3, 0.6, 0.2, 0.0, 0.1, -0.3, 0.0, 0.3, 0.4, 0.1, 0.2, 0.7, 0.3, -0.1, 0.1,
  0.2, 0.4, 0.5, 0.1, -0.1, 0.2, 0.1, 0.5, 0.7, 0.2, -0.2, 0.1, 0.3, 0.0, 0.0, 0.4, 0.5, 0.1, 0.2, 0.6,
  3.0, 0.2, -0.4, -0.6, -0.8, -0.4, -0.2, -0.5, -0.6, -0.2, -0.1, -0.6, -0.9, -0.5, -0.3, -0.4, -0.5, -0.8, -0.7, -0.4,
  -0.2, -0.5, -0.6, -0.3, -0.4, -0.8, -0.9, -0.5, -0.1, -0.4, -0.5, -0.2, -0.7, -0.8, -0.3, -0.5, -0.8, -0.6, -0.2, -0.4,
  -0.6, -0.3, -0.4, -0.6, -0.7, -0.4, -0.1, -0.3, -0.5, -0.7, -0.8, -0.5, -0.3, -0.4, -0.6, -0.3, -0.2, -0.4, -0.5, -0.7,
  -0.7,
];
const resSky = [
  0.2, 0.4, -0.5, -0.1, 0.6, 0.3, -0.2, -0.4, 0.4, 0.1, -0.6, -0.3, 0.3, 0.5, 0.7, 0.2, 2.1, -0.1, 0.2, 0.4,
  3.2, 0.3, 0.3, -0.2, -0.4, 0.0, 0.3, -0.3, -0.4, 0.0, 0.3, -0.1, -0.3, -0.1, 0.3, -0.2, -0.4, -0.1, 0.3, -0.1,
  -0.3, 0.0, 0.2, -0.3, -0.5, -0.2, 0.1, -0.3, -0.5, -0.2, 0.1, -0.4, -0.6, -0.3, 0.0, -0.4, -0.5, -0.3, 0.1, -0.3,
  -0.5, -0.2, 0.0, -0.5, -0.6, -0.3, 0.0, -0.3, -0.5, -0.3, 0.0, -0.3, -0.5, -0.5, -0.4, -0.2, 0.1, -0.3, -0.5, -0.4,
  -0.3, 0.0, 0.0, -0.4, -0.6, -0.4, -0.3, 0.0, 0.1, -0.3, -0.5, -0.3, -0.1, -0.4, -0.5, -0.2, 0.1, -0.2, -0.5, -0.4,
  -0.5, -0.2, 0.0, -0.3, -0.5, -0.3, -0.2, -0.5, -0.8, -0.4, 0.0, -0.3, -0.4, -0.2, 0.1, -0.2, -0.3, -0.5, -0.7, -0.3,
  0.0, 0.1, 0.2, -0.1, -0.3, -0.2, -0.1, 0.2, 0.3, -0.1, -0.5, -0.2, 0.1, 0.0, -0.2, 0.1, 0.4, 0.0, -0.4, -0.2,
  -0.1, 0.1, 0.2, -0.1, -0.3, -0.1, 0.0, -0.3, -0.5, -0.1, 0.3, 0.1, -0.1, 0.0, 0.1, -0.3, -0.4, 0.0, 0.4, 0.1,
  -0.1, -0.2, -0.3, 0.0, 0.2, 0.1, -0.1, -0.3, -0.5, -0.1, 0.3, 0.1, 0.0, -0.2, -0.4, 0.0, 0.4, 0.1, -0.2, -0.1,
  0.0, 0.2, 0.3, -0.1, -0.4, -0.1, 0.1, 0.0, -0.2, -0.5, -0.7, -0.2, 0.2, 0.1, -0.1, 0.1, 0.4, 0.0, -0.3, -0.1,
  2.2, 0.0, -0.4, -0.2, -0.1, -0.5, -0.7, -0.4, -0.3, -0.1, -0.2, -0.6, -0.9, -0.5, -0.2, -0.4, -0.5, -0.7, -0.8, -0.4,
  -0.1, -0.4, -0.6, -0.8, -1.0, -0.6, -0.3, -0.4, -0.5, -0.7, -0.8, -0.5, -0.2, -0.4, -0.7, -0.6, -0.4, -0.8, -1.1, -0.7,
  -0.3, -0.5, -0.6, -0.8, -0.8, -0.4, -0.2, -0.5, -0.7, -0.8, -1.0, -0.7, -0.5, -0.3, -0.4, -0.7, -0.9, -0.7, -0.6, -0.9,
  -1.1,
];
const resMaroon = [
  -0.3, 0.1, 0.4, -0.2, -0.7, 0.2, 0.5, 0.3, 0.1, -0.3, -0.4, 0.2, 0.6, -0.1, -0.8, 0.1, 0.3, 0.5, -0.5, -0.2,
  4.3, 0.1, 0.3, -0.1, -0.3, 0.2, 0.4, -0.1, -0.2, 0.2, 0.4, -0.1, -0.3, 0.2, 0.4, -0.2, -0.4, 0.0, 0.3, -0.2,
  -0.4, 0.0, 0.2, -0.3, -0.4, -0.1, 0.2, -0.2, -0.4, -0.1, 0.2, -0.2, -0.4, -0.2, 0.1, -0.3, -0.5, -0.2, 0.1, -0.3,
  -0.5, -0.2, 0.0, -0.5, -0.6, -0.3, 0.1, -0.3, -0.5, -0.2, 0.1, -0.3, -0.5, -0.2, 0.1, -0.3, -0.5, -0.5, -0.4, -0.3,
  -0.2, -0.4, -0.6, -0.4, -0.2, -0.4, -0.5, -0.2, 0.0, -0.4, -0.5, -0.3, 0.0, -0.4, -0.6, -0.5, -0.4, -0.6, -0.8, -0.5,
  -0.1, -0.3, -0.5, -0.3, 0.0, -0.3, -0.5, -0.2, 0.1, -0.2, -0.4, -0.3, -0.1, -0.3, -0.4, -0.2, 0.1, -0.1, -0.3, -0.2,
  -0.1, -0.2, -0.3, 0.0, 0.2, -0.1, -0.2, 0.1, 0.3, 0.0, -0.2, 0.1, 0.3, 0.0, -0.1, 0.0, 0.1, 0.2, 0.4, 0.1,
  -0.2, 0.0, 0.2, 0.0, -0.2, 0.1, 0.4, 0.2, -0.1, 0.1, 0.4, 0.1, -0.2, 0.0, 0.2, 0.4, 0.5, 0.2, 0.0, 0.1,
  0.2, 0.1, 0.0, 0.3, 0.5, 0.2, -0.1, 0.1, 0.3, 0.2, 0.1, 0.4, 0.6, 0.3, 0.0, 0.2, 0.4, 0.3, 0.2, 0.3,
  0.3, 0.1, -0.1, 0.2, 0.4, 0.2, 0.0, 0.3, 0.5, 0.2, 0.1, 0.2, 0.3, 0.1, -0.1, 0.3, 0.6, 0.3, 0.2, 0.3,
  3.2, -0.2, -0.8, -1.1, -1.3, -0.9, -0.6, -0.9, -1.1, -0.8, -0.7, -1.2, -1.5, -1.1, -0.9, -0.7, -0.5, -0.9, -1.2, -1.0,
  -0.8, -1.1, -1.4, -1.0, -0.7, -0.9, -1.0, -0.7, -0.6, -1.0, -1.3, -1.1, -0.9, -0.6, -0.5, -1.1, -1.6, -1.2, -0.8, -1.0,
  -1.1, -0.9, -0.7, -1.0, -1.2, -0.9, -0.6, -1.0, -1.4, -1.1, -0.8, -0.9, -1.0, -0.7, -0.5, -0.9, -1.3, -1.0, -0.9, -0.8,
  -0.7,
];
const resPurple = [
  0.6, 0.1, -0.4, -0.1, 0.3, 0.5, -0.6, -0.2, 0.5, 0.2, -0.2, -0.5, -0.7, 0.0, 0.4, 0.1, -0.3, 0.2, 0.5, -0.1,
  3.9, 0.2, 0.2, -0.1, -0.3, 0.0, 0.3, 0.0, -0.3, 0.1, 0.4, -0.1, -0.3, 0.0, 0.3, -0.1, -0.4, -0.2, 0.2, -0.2,
  -0.5, -0.2, 0.0, -0.4, -0.7, -0.5, -0.2, -0.6, -0.8, -0.6, -0.2, -0.6, -0.9, -0.6, -0.4, -0.7, -0.9, -0.6, -0.3, -0.7,
  -0.9, -0.6, -0.5, -0.8, -1.1, -0.7, -0.4, -0.8, -1.1, -0.8, -0.5, -0.8, -1.0, -0.7, -0.4, -0.8, -1.0, -0.6, -0.4, -0.7,
  -0.8, -0.7, -0.8, -0.4, -1.1, -0.8, -0.4, -0.6, -0.8, -0.6, -0.3, -0.7, -1.0, -0.7, -0.5, -0.7, -0.9, -0.6, -0.4, -0.7,
  -0.8, -0.6, -0.4, -0.7, -0.8, -0.5, -0.3, -0.6, -1.0, -0.6, -0.3, -0.5, -0.7, -0.6, -0.5, -0.7, -0.9, -0.5, -0.2, -0.6,
  -0.6, -0.3, -0.1, -0.5, -0.8, -0.4, -0.1, -0.4, -0.5, -0.4, -0.3, -0.6, -0.8, -0.4, 0.0, -0.2, -0.4, -0.3, -0.2, -0.4,
  -0.5, -0.2, 0.0, -0.3, -0.7, -0.3, 0.1, -0.1, -0.3, -0.2, -0.1, -0.3, -0.6, -0.2, 0.2, 0.0, -0.2, -0.1, 0.0, -0.2,
  -0.4, -0.1, 0.2, 0.0, -0.2, -0.4, -0.5, -0.1, 0.3, 0.1, -0.1, 0.0, 0.1, -0.2, -0.3, 0.0, 0.4, 0.2, 0.0, -0.2,
  -0.3, 0.0, 0.3, 0.1, -0.1, 0.2, 0.4, 0.1, -0.4, -0.1, 0.2, 0.1, 0.0, 0.3, 0.5, 0.2, -0.2, 0.0, 0.3, 0.1,
  3.5, 0.1, -0.6, -0.9, -1.1, -0.7, -0.4, -0.7, -0.9, -1.2, -1.5, -1.0, -0.7, -0.8, -1.0, -0.6, -0.3, -0.7, -1.2, -0.9,
  -0.6, -0.8, -0.9, -1.2, -1.6, -1.1, -0.5, -0.8, -1.1, -0.9, -0.7, -1.0, -1.3, -0.8, -0.4, -0.7, -1.0, -0.9, -0.8, -1.1,
  -1.4, -1.0, -0.6, -0.8, -1.1, -0.8, -0.5, -0.7, -0.9, -1.1, -1.2, -0.9, -0.7, -1.0, -1.0, -0.6, -0.4, -0.8, -1.1, -1.0,
  -0.8,
];

// axis ticks
const X_TICKS = [-20, -10, 0, 10, 20, 30, 40, 50, 60, 70, 80, 90, 100, 110, 120, 130, 140, 150, 160, 170, 180, 190, 200, 210, 220, 230, 240];
const Y_TICKS_TOP = [-4, -3, -2, -1, 0, 1, 2, 3, 4, 5, 6, 7, 8, 9, 10, 11, 12];
const Y_TICKS_BOTTOM = [-6, -5, -4, -3, -2, -1, 0, 1, 2, 3, 4, 5, 6];

// series order = drawing order (first drawn at the back)
const SERIES = [
  { key: 'purple', color: '#A347C9', resp: respPurple, res: resPurple, fit: fitPurple },
  { key: 'maroon', color: '#7B0000', resp: respMaroon, res: resMaroon, fit: fitMaroon },
  { key: 'sky', color: '#6495ED', resp: respSky, res: resSky, fit: fitSky },
  { key: 'magenta', color: '#C8147E', resp: respMagenta, res: resMagenta, fit: fitMagenta },
  { key: 'lime', color: '#99CC00', resp: respLime, res: resLime, fit: fitLime },
  { key: 'red', color: '#FF0000', resp: respRed, res: resRed, fit: fitRed },
  { key: 'green', color: '#226B00', resp: respGreen, res: resGreen, fit: fitGreen },
  { key: 'blue', color: '#0000FF', resp: respBlue, res: resBlue, fit: fitBlue },
];

const FONT = '"Liberation Sans", Arial, sans-serif';

const rows = T.map((t, i) => {
  const r: Record<string, number> = { t };
  SERIES.forEach((s) => { r[s.key] = s.resp[i]; });
  return r;
});

const fitData = SERIES.map((s) => FT.map((t, i) => ({ t, v: s.fit[i] })));
const resData = SERIES.map((s) => T.map((t, i) => ({ t, r: s.res[i] })));

function XTick(props: any) {
  const { x, y, payload } = props;
  const v = payload.value;
  const major = v % 20 === 0;
  const h = major ? 5 : 3;
  return (
    <g>
      <line x1={x} x2={x} y1={y - h} y2={y + h} stroke="#000" strokeWidth={1.5} />
      {major && (
        <text x={x} y={y + 31} textAnchor="middle" fontSize={17} fontFamily={FONT} fill="#000">{v}</text>
      )}
    </g>
  );
}

function YTick(props: any) {
  const { x, y, payload } = props;
  const v = payload.value;
  const major = v % 2 === 0;
  const h = major ? 5 : 3;
  return (
    <g>
      <line x1={x - h} x2={x + h} y1={y} y2={y} stroke="#000" strokeWidth={1.5} />
      {major && (
        <text x={x - 12} y={y + 6} textAnchor="end" fontSize={17} fontFamily={FONT} fill="#000">{v}</text>
      )}
    </g>
  );
}

function makeDiamond(color: string) {
  return (props: any) => {
    const { cx, cy } = props;
    if (cx == null || cy == null) return <g />;
    const d = 3.6;
    return (
      <path
        d={`M${cx},${cy - d}L${cx + d},${cy}L${cx},${cy + d}L${cx - d},${cy}Z`}
        fill="none"
        stroke={color}
        strokeWidth={1.5}
      />
    );
  };
}

export default function App() {
  return (
    <div style={{ position: 'absolute', left: 0, top: 0, width: 1036, height: 601, background: '#fff', overflow: 'hidden' }}>
      <div style={{ position: 'absolute', left: 0, top: 0 }}>
        <ComposedChart width={1036} height={320} data={rows} margin={{ top: 63, right: 17, bottom: 0, left: 0 }}>
          <XAxis
            dataKey="t"
            type="number"
            domain={[-20, 240]}
            ticks={X_TICKS}
            interval={0}
            tickSize={0}
            tickMargin={0}
            tickLine={false}
            tick={<XTick />}
            height={43}
            axisLine={{ stroke: '#000', strokeWidth: 1.5 }}
            allowDataOverflow
          />
          <YAxis
            type="number"
            domain={[-4, 12]}
            ticks={Y_TICKS_TOP}
            interval={0}
            tickSize={0}
            tickMargin={0}
            tickLine={false}
            tick={<YTick />}
            width={72}
            axisLine={{ stroke: '#000', strokeWidth: 1.5 }}
            allowDataOverflow
          />
          {SERIES.map((s) => (
            <Line
              key={s.key}
              dataKey={s.key}
              type="linear"
              stroke={s.color}
              strokeWidth={1.4}
              dot={false}
              activeDot={false}
              isAnimationActive={false}
            />
          ))}
          {SERIES.map((s, i) => (
            <Line
              key={'fw' + s.key}
              data={fitData[i]}
              dataKey="v"
              type="linear"
              stroke="#fff"
              strokeWidth={3.5}
              dot={false}
              activeDot={false}
              isAnimationActive={false}
            />
          ))}
          {SERIES.map((s, i) => (
            <Line
              key={'fb' + s.key}
              data={fitData[i]}
              dataKey="v"
              type="linear"
              stroke="#000"
              strokeWidth={1.8}
              dot={false}
              activeDot={false}
              isAnimationActive={false}
            />
          ))}
        </ComposedChart>
      </div>
      <div style={{ position: 'absolute', left: 0, top: 320 }}>
        <ComposedChart width={1036} height={281} margin={{ top: 33, right: 17, bottom: 0, left: 0 }}>
          <XAxis
            dataKey="t"
            type="number"
            domain={[-20, 240]}
            ticks={X_TICKS}
            interval={0}
            tickSize={0}
            tickMargin={0}
            tickLine={false}
            tick={<XTick />}
            height={62}
            axisLine={{ stroke: '#000', strokeWidth: 1.5 }}
            allowDataOverflow
          />
          <YAxis
            dataKey="r"
            type="number"
            domain={[-6, 6]}
            ticks={Y_TICKS_BOTTOM}
            interval={0}
            tickSize={0}
            tickMargin={0}
            tickLine={false}
            tick={<YTick />}
            width={72}
            axisLine={{ stroke: '#000', strokeWidth: 1.5 }}
            allowDataOverflow
          />
          {SERIES.map((s, i) => (
            <Scatter
              key={'r' + s.key}
              data={resData[i]}
              dataKey="r"
              shape={makeDiamond(s.color)}
              isAnimationActive={false}
            />
          ))}
          <ReferenceLine y={5.7} stroke="#FF0000" strokeWidth={2} />
          <ReferenceLine y={-5.7} stroke="#FF0000" strokeWidth={2} />
          <ReferenceLine y={1.5} stroke="#3C8A28" strokeWidth={2} />
          <ReferenceLine y={-1.5} stroke="#3C8A28" strokeWidth={2} />
          <ReferenceLine y={0} stroke="#E8DC00" strokeWidth={1.5} />
          <ReferenceLine segment={[{ x: 0, y: 1.5 }, { x: 13, y: 1.5 }]} stroke="#D2691E" strokeWidth={2} />
        </ComposedChart>
      </div>
      <svg width={1036} height={601} style={{ position: 'absolute', left: 0, top: 0, pointerEvents: 'none' }}>
        <text x={85} y={37} fontSize={30} letterSpacing={0.3} fontWeight="bold" fontFamily={FONT} fill="#000">
          <tspan>Ligand:TCO, Analyte:Tz-BnNH</tspan>
          <tspan fontSize={18} dy={5}>2</tspan>
          <tspan dy={-5}> in 100% FBS</tspan>
        </text>
        <text x={28} y={39} fontSize={15} fontFamily={FONT} fill="#000">RU</text>
        <text x={24} y={181} fontSize={17} fontWeight="bold" fontFamily={FONT} textAnchor="middle" transform="rotate(-90 24 181)" fill="#000">Response</text>
        <text x={24} y={447} fontSize={17} fontWeight="bold" fontFamily={FONT} textAnchor="middle" transform="rotate(-90 24 447)" fill="#000">Response</text>
        <text x={522} y={337} fontSize={18} fontWeight="bold" fontFamily={FONT} textAnchor="middle" fill="#000">Time</text>
        <text x={522} y={598} fontSize={18} fontWeight="bold" fontFamily={FONT} textAnchor="middle" fill="#000">Time</text>
        <text x={1027} y={334} fontSize={13} fontFamily={FONT} fill="#000">s</text>
        <text x={1027} y={596} fontSize={13} fontFamily={FONT} fill="#000">s</text>
      </svg>
    </div>
  );
}
